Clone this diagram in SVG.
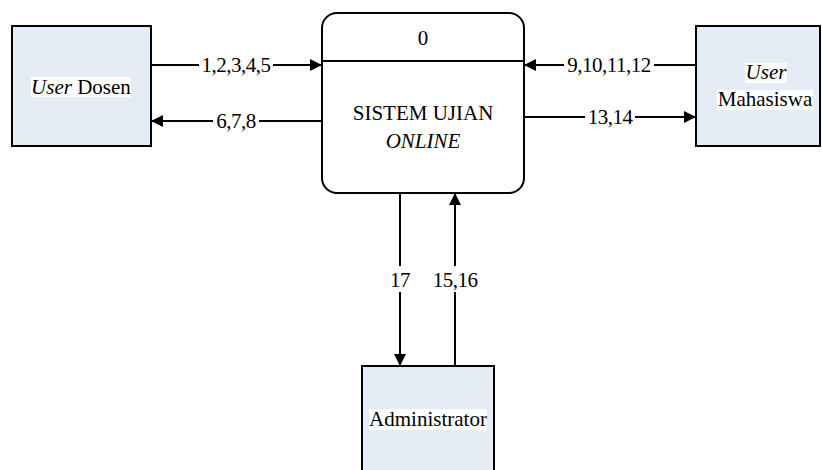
<svg xmlns="http://www.w3.org/2000/svg" width="822" height="470" viewBox="0 0 822 470">
<style>
  .box { fill: #e6ecf6; stroke: #000; stroke-width: 2; }
  .proc { fill: #fff; stroke: #000; stroke-width: 2; }
  .ln { stroke: #000; stroke-width: 2; fill: none; }
  .hl { fill: #fff; }
</style>
<defs>
  <marker id="ah" markerUnits="userSpaceOnUse" markerWidth="12" markerHeight="12" refX="12" refY="6" orient="auto">
    <path d="M0,0 L12,6 L0,12 Z" fill="#000"/>
  </marker>
</defs>

<g id="connectors">
  <line class="ln" x1="151" y1="65" x2="322" y2="65" marker-end="url(#ah)"/>
  <line class="ln" x1="322" y1="121" x2="151" y2="121" marker-end="url(#ah)"/>
  <line class="ln" x1="696" y1="65" x2="524" y2="65" marker-end="url(#ah)"/>
  <line class="ln" x1="524" y1="117" x2="696" y2="117" marker-end="url(#ah)"/>
  <line class="ln" x1="400" y1="193" x2="400" y2="366" marker-end="url(#ah)"/>
  <line class="ln" x1="455" y1="366" x2="455" y2="193" marker-end="url(#ah)"/>
  <rect class="hl" x="199" y="55" width="74" height="20"/>
  <rect class="hl" x="213" y="111" width="46" height="20"/>
  <rect class="hl" x="564" y="55" width="90" height="20"/>
  <rect class="hl" x="585" y="107" width="50" height="20"/>
  <rect class="hl" x="388" y="266" width="24" height="26"/>
  <rect class="hl" x="430" y="266" width="50" height="26"/>
  <g font-family="Liberation Serif, Times New Roman, serif" font-size="21" fill="#000" text-anchor="middle" letter-spacing="-0.5">
    <text x="236" y="72">1,2,3,4,5</text>
    <text x="236" y="128">6,7,8</text>
    <text x="609" y="72">9,10,11,12</text>
    <text x="610" y="124">13,14</text>
    <text x="400" y="287">17</text>
    <text x="455" y="287">15,16</text>
  </g>
</g>

<g id="user-dosen">
  <rect class="box" x="12" y="26" width="139" height="120"/>
  <rect class="hl" x="31" y="77" width="100" height="20"/>
  <text x="81" y="94" font-family="Liberation Serif, Times New Roman, serif" font-size="21" fill="#000" text-anchor="middle"><tspan font-style="italic">User</tspan> Dosen</text>
</g>

<g id="sistem">
  <rect class="proc" x="322" y="13" width="202" height="180" rx="15" ry="15"/>
  <line class="ln" x1="322" y1="61" x2="524" y2="61"/>
  <g font-family="Liberation Serif, Times New Roman, serif" font-size="21" fill="#000" text-anchor="middle">
    <text x="423" y="45">0</text>
    <text x="423" y="120">SISTEM UJIAN</text>
    <text x="423" y="148" font-style="italic">ONLINE</text>
  </g>
</g>

<g id="user-mahasiswa">
  <rect class="box" x="696" y="26" width="124" height="120"/>
  <rect class="hl" x="745" y="63" width="42" height="20"/>
  <rect class="hl" x="717" y="90" width="96" height="20"/>
  <g font-family="Liberation Serif, Times New Roman, serif" font-size="21" fill="#000" text-anchor="middle">
    <text x="766" y="79" font-style="italic">User</text>
    <text x="765" y="106">Mahasiswa</text>
  </g>
</g>

<g id="administrator">
  <rect class="box" x="362" y="366" width="132" height="112"/>
  <rect class="hl" x="369" y="409" width="118" height="21"/>
  <text x="428" y="426" font-family="Liberation Serif, Times New Roman, serif" font-size="21" fill="#000" text-anchor="middle">Administrator</text>
</g>
</svg>
